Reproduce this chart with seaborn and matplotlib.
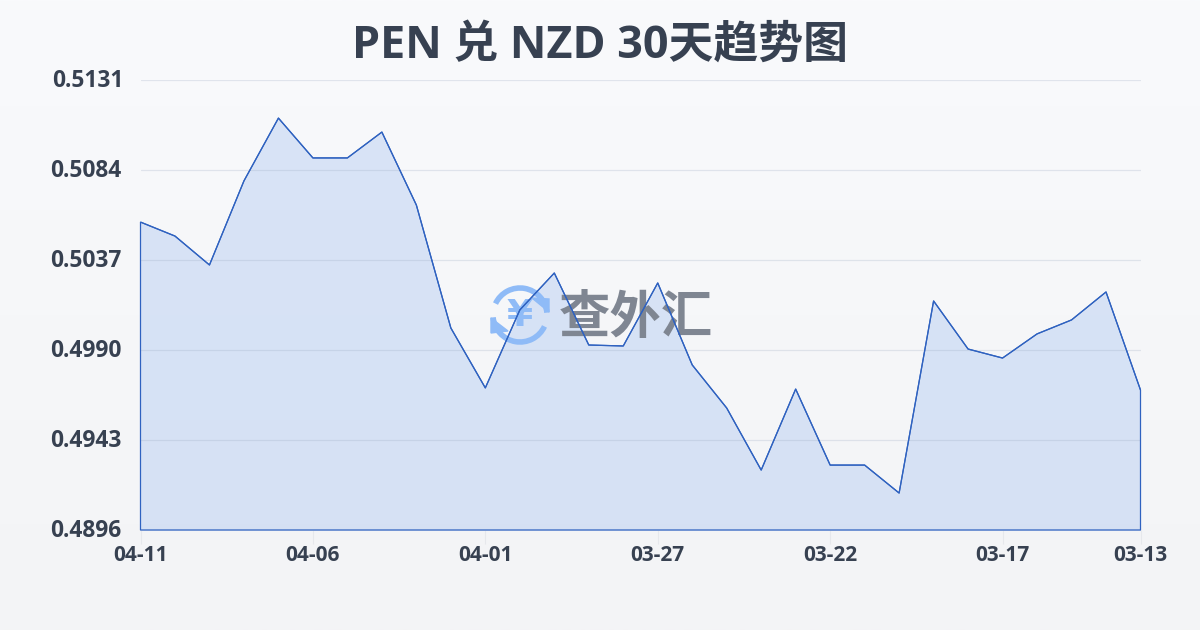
import numpy as np
import seaborn as sns
import matplotlib
matplotlib.use("Agg")
import matplotlib.pyplot as plt
from matplotlib.patches import Arc, Polygon
from matplotlib.transforms import Affine2D, ScaledTranslation

dates = ["04-11", "04-10", "04-09", "04-08", "04-07", "04-06", "04-05", "04-04", "04-03", "04-02",
         "04-01", "03-31", "03-30", "03-29", "03-28", "03-27", "03-26", "03-25", "03-24", "03-23",
         "03-22", "03-21", "03-20", "03-19", "03-18", "03-17", "03-16", "03-15", "03-14", "03-13"]
rates = [0.50568, 0.50495, 0.50344, 0.50783, 0.51111, 0.50903, 0.50903, 0.51038, 0.50657, 0.50015,
         0.49702, 0.50109, 0.50302, 0.49926, 0.49921, 0.50250, 0.49822, 0.49597, 0.49273, 0.49696,
         0.49299, 0.49299, 0.49153, 0.50156, 0.49905, 0.49858, 0.49984, 0.50057, 0.50203, 0.49691]
y_ticks = [0.4896, 0.4943, 0.4990, 0.5037, 0.5084, 0.5131]
x_tick_labels = ["04-11", "04-06", "04-01", "03-27", "03-22", "03-17", "03-13"]

sns.set_theme(style="white")
plt.rcParams["font.family"] = ["Open Sans", "Noto Sans CJK SC", "DejaVu Sans"]

TEXT = "#374151"
LINE = "#2f62c0"
LOGO = "#8fbbf7"

fig = plt.figure(figsize=(12, 6.3), dpi=100)

# page background, very soft vertical gradient
bg = fig.add_axes([0, 0, 1, 1], zorder=0)
bg.imshow(np.linspace(0, 1, 256).reshape(-1, 1), aspect="auto", extent=(0, 1, 0, 1),
          cmap=matplotlib.colors.LinearSegmentedColormap.from_list("page", ["#f9fafc", "#f3f4f6"]), origin="upper")
bg.axis("off")

ax = fig.add_axes([140.5 / 1200, 100 / 630, 1000 / 1200, 450 / 630], zorder=1)
ax.patch.set_alpha(0)
x = np.arange(len(dates))

ax.fill_between(x, rates, y_ticks[0], facecolor="#3a7ae6", alpha=0.16, linewidth=0, zorder=1)
ax.fill_between(x, rates, y_ticks[0], facecolor="none", edgecolor=LINE, linewidth=0.9, zorder=4, clip_on=False)
sns.lineplot(x=x, y=rates, ax=ax, color=LINE, linewidth=0.9, zorder=5, errorbar=None)

ax.set_xlim(0, len(dates) - 1)
ax.set_ylim(y_ticks[0], y_ticks[-1])
for s in ax.spines.values():
    s.set_visible(False)
ax.yaxis.grid(True, color="#9aa8c0", linewidth=0.9, alpha=0.25)
ax.set_axisbelow(False)
for gl in ax.get_ygridlines():
    gl.set_zorder(2)

ax.set_yticks(y_ticks)
ax.set_yticklabels([f"{v:.4f}" for v in y_ticks], fontsize=16.4, fontweight="bold", color=TEXT)
ax.tick_params(axis="y", length=0, pad=13.5)
# labels sit a little above their gridlines
for lab in ax.get_yticklabels():
    lab.set_transform(lab.get_transform() + ScaledTranslation(0, 2 / 100, fig.dpi_scale_trans))
ax.get_yticklabels()[-1].set_transform(ax.get_yticklabels()[-1].get_transform() + ScaledTranslation(2 / 100, 0, fig.dpi_scale_trans))

ax.set_xticks(list(x[::5]) + [x[-1]] if x[-1] % 5 else list(x[::5]))
ax.set_xticklabels(x_tick_labels, fontsize=15, fontweight="bold", color=TEXT)
ax.tick_params(axis="x", length=10, width=0.8, color="#e6e8ec", pad=1, bottom=True)

fig.text(0.5, 1 - 46 / 630, "PEN 兑 NZD 30天趋势图", ha="center", va="center",
         fontsize=32.3, fontweight="bold", color=TEXT)

# watermark, coordinates in output pixels from the top left corner
px = Affine2D().scale(1, -1).translate(0, 630)
ax.text(636, 320, "查外汇", transform=px, ha="center", va="center", fontsize=37, fontweight="bold",
        color="#7f8692", zorder=3, clip_on=False)
ax.text(520, 316, "¥", transform=px, ha="center", va="center", fontsize=27, fontweight="bold",
        family="DejaVu Sans", color=LOGO, zorder=3, clip_on=False)
ax.add_patch(Arc((520, 315), 54, 54, theta1=25, theta2=175, transform=px, color=LOGO, lw=4, zorder=3, clip_on=False))
ax.add_patch(Arc((520, 315), 54, 54, theta1=205, theta2=355, transform=px, color=LOGO, lw=4, zorder=3, clip_on=False))
ax.add_patch(Polygon([(532, 298), (549, 299), (549, 312)], transform=px, color=LOGO, zorder=3, clip_on=False))
ax.add_patch(Polygon([(491, 318), (508, 331), (491, 333)], transform=px, color=LOGO, zorder=3, clip_on=False))

fig.savefig("out.png", dpi=100)
